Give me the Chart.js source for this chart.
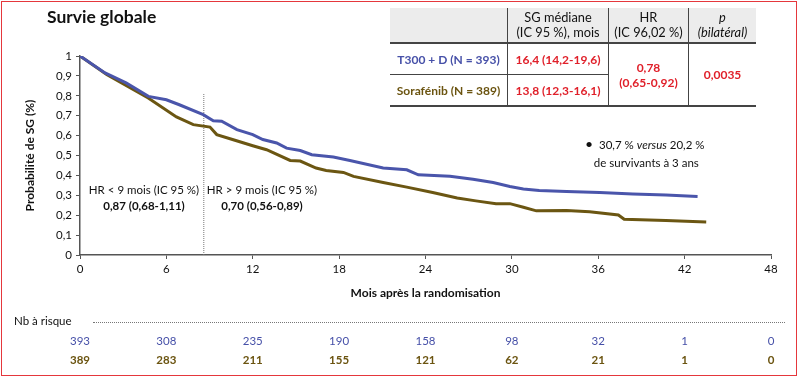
<!DOCTYPE html>
<html><head><meta charset="utf-8">
<script src="https://cdn.jsdelivr.net/npm/chart.js@4/dist/chart.umd.min.js"></script>
<style>
html,body{margin:0;padding:0;background:#fff;}
body{width:800px;height:378px;position:relative;overflow:hidden;font-family:Lato,"Noto Sans",sans-serif;color:#111;}
#frame{position:absolute;left:1px;top:1px;width:794px;height:373px;border:1.5px solid #e5373c;}
#wrap{position:absolute;left:0;top:0;width:800px;height:378px;}
.abs{position:absolute;white-space:nowrap;}
#title{left:47px;top:6px;font-size:17.5px;font-weight:700;}
table{position:absolute;left:390px;top:8px;border-collapse:collapse;font-size:12px;}
td{padding:0;text-align:center;vertical-align:middle;line-height:15px;}
.hd td{background:#ececec;height:34px;border-bottom:2px solid #444;font-size:12.8px;}
.vl{border-left:1.5px solid #444;}
.r1 td{height:30px;}
.r2 td{height:30px;border-bottom:2px solid #444;}
.r1 td.b{border-bottom:1px solid #444;}
.red{color:#e0202a;font-weight:700;}
.blue{color:#4650a8;}
.brown{color:#6b5410;}
.bold{font-weight:700;}
.ann{font-size:11.5px;text-align:center;line-height:16px;}
.risk{font-size:11.5px;transform:translateX(-50%);}
</style></head>
<body>
<div id="wrap"><canvas id="c" width="800" height="378"></canvas></div>
<div id="frame"></div>
<div id="title" class="abs">Survie globale</div>
<table>
<tr class="hd"><td style="width:117px"></td><td class="vl" style="width:100px">SG médiane<br>(IC 95 %), mois</td><td class="vl" style="width:79px">HR<br>(IC 96,02 %)</td><td class="vl" style="width:67px"><i>p</i><br><i>(bilatéral)</i></td></tr>
<tr class="r1"><td class="b blue bold">T300 + D (N = 393)</td><td class="vl b red">16,4 (14,2-19,6)</td><td class="vl red" rowspan="2" style="border-bottom:2px solid #444">0,78<br>(0,65-0,92)</td><td class="vl red" rowspan="2" style="border-bottom:2px solid #444">0,0035</td></tr>
<tr class="r2"><td class="brown bold">Sorafénib (N = 389)</td><td class="vl red">13,8 (12,3-16,1)</td></tr>
</table>
<div class="abs ann" style="left:86px;top:182px;width:116px;">HR &lt; 9 mois (IC 95 %)<br><b>0,87 (0,68-1,11)</b></div>
<div class="abs ann" style="left:204px;top:182px;width:116px;">HR &gt; 9 mois (IC 95 %)<br><b>0,70 (0,56-0,89)</b></div>
<div class="abs" style="left:585px;top:135px;font-size:11.5px;line-height:18px;">
<span style="font-size:14px;">•</span>&nbsp;&nbsp;30,7 % <i>versus</i> 20,2 %<br>&nbsp;&nbsp;&nbsp;de survivants à 3 ans</div>
<div class="abs" style="left:14px;top:314px;font-size:11.5px;">Nb à risque</div>
<div class="abs" style="left:93px;top:322px;width:692px;border-top:1px dotted #777;"></div>
<div id="riskrows"></div>
<script>
const monthsT300 = [0,1.74,3.2,4.75,6.0,6.9,8.56,9.26,9.84,10.9,12.0,12.7,13.66,14.35,15.3,16.1,17.6,18.75,21.06,22.7,23.5,25.7,27.3,28.7,29.86,30.8,31.9,33.8,36.1,38.4,40.7,42.9];
const survT300 = [1,0.915,0.865,0.797,0.78,0.755,0.705,0.675,0.672,0.63,0.605,0.58,0.563,0.537,0.525,0.504,0.492,0.475,0.437,0.428,0.403,0.396,0.381,0.364,0.344,0.332,0.324,0.319,0.314,0.307,0.301,0.294];
const monthsSora = [0,1.85,4.74,6.7,7.87,9.03,9.5,10.65,12.0,12.96,14.6,15.3,16.4,17.1,18.3,19.0,21.06,22.7,24.5,26.2,27.5,28.9,29.86,30.8,31.7,33.8,35.4,37.4,37.8,40.7,43.5];
const survSora = [1,0.907,0.789,0.694,0.655,0.643,0.605,0.579,0.549,0.529,0.475,0.472,0.437,0.425,0.415,0.395,0.364,0.341,0.314,0.286,0.272,0.257,0.258,0.24,0.222,0.223,0.217,0.201,0.18,0.173,0.166];
const cutMonth = 8.6;
const cutTop = 0.81;
const riskMonths = [0,6,12,18,24,30,36,42,48];
const riskT300 = [393,308,235,190,158,98,32,1,0];
const riskSora = [389,283,211,155,121,62,21,1,0];
const xTicks = [0,6,12,18,24,30,36,42,48];

const BLUE = '#4a55ab', BROWN = '#6b5612';
const pts = (xs, ys) => xs.map((x,i)=>({x, y: ys[i]}));
const FONT = 'Lato, "Noto Sans", sans-serif';

const riskPlugin = {
  id:'risk',
  afterRender(chart){
    const box = document.getElementById('riskrows');
    if (box.childElementCount) return;
    const xs = chart.scales.x;
    const rows = [[riskT300, 'blue', 334, 400],[riskSora, 'brown', 353, 700]];
    rows.forEach(([vals, cls, top, w])=>{
      vals.forEach((v,i)=>{
        const d = document.createElement('div');
        d.className = 'abs risk ' + cls;
        d.style.fontWeight = w;
        d.style.left = xs.getPixelForValue(riskMonths[i]) + 'px';
        d.style.top = top + 'px';
        d.textContent = v;
        box.appendChild(d);
      });
    });
  }
};

new Chart(document.getElementById('c'), {
  type:'line',
  data:{datasets:[
    {label:'T300 + D', data:pts(monthsT300, survT300), borderColor:BLUE, borderWidth:3, pointRadius:0, tension:0},
    {label:'Sorafénib', data:pts(monthsSora, survSora), borderColor:BROWN, borderWidth:3, pointRadius:0, tension:0},
    {label:'cut', data:[{x:cutMonth,y:0},{x:cutMonth,y:cutTop}], borderColor:'#777', borderWidth:1, borderDash:[1,1], pointRadius:0}
  ]},
  options:{
    responsive:false, animation:false,
    layout:{padding:{left:0, top:56, right:29, bottom:78}},
    plugins:{legend:{display:false}, tooltip:{enabled:false}},
    scales:{
      x:{type:'linear', min:0, max:48,
        afterFit(s){ s.height = 45; },
        afterBuildTicks(s){ s.ticks = xTicks.map(v=>({value:v})); },
        grid:{display:true, drawOnChartArea:false, drawTicks:true, tickLength:4, color:'#555', lineWidth:1},
        border:{display:true, color:'#555', width:1.5},
        ticks:{color:'#111', font:{family:FONT, size:11.5}, padding:3, maxRotation:0},
        title:{display:true, text:'Mois après la randomisation', color:'#111', font:{family:FONT, size:12, weight:'bold'}, padding:{top:0,bottom:0}}
      },
      y:{type:'linear', min:0, max:1,
        afterFit(s){ s.width = 80; },
        grid:{display:true, drawOnChartArea:false, drawTicks:true, tickLength:4, color:'#555', lineWidth:1},
        border:{display:true, color:'#555', width:1.5},
        ticks:{stepSize:0.1, color:'#111', font:{family:FONT, size:11.5}, padding:4,
          callback:v=>{ const r=Math.round(v*10)/10; return (r===0||r===1)? String(r) : r.toFixed(1).replace('.',','); }},
        title:{display:true, text:'Probabilité de SG (%)', color:'#111', font:{family:FONT, size:12, weight:'bold'}, padding:{top:23,bottom:0}}
      }
    }
  },
  plugins:[riskPlugin]
});
</script>
</body></html>
